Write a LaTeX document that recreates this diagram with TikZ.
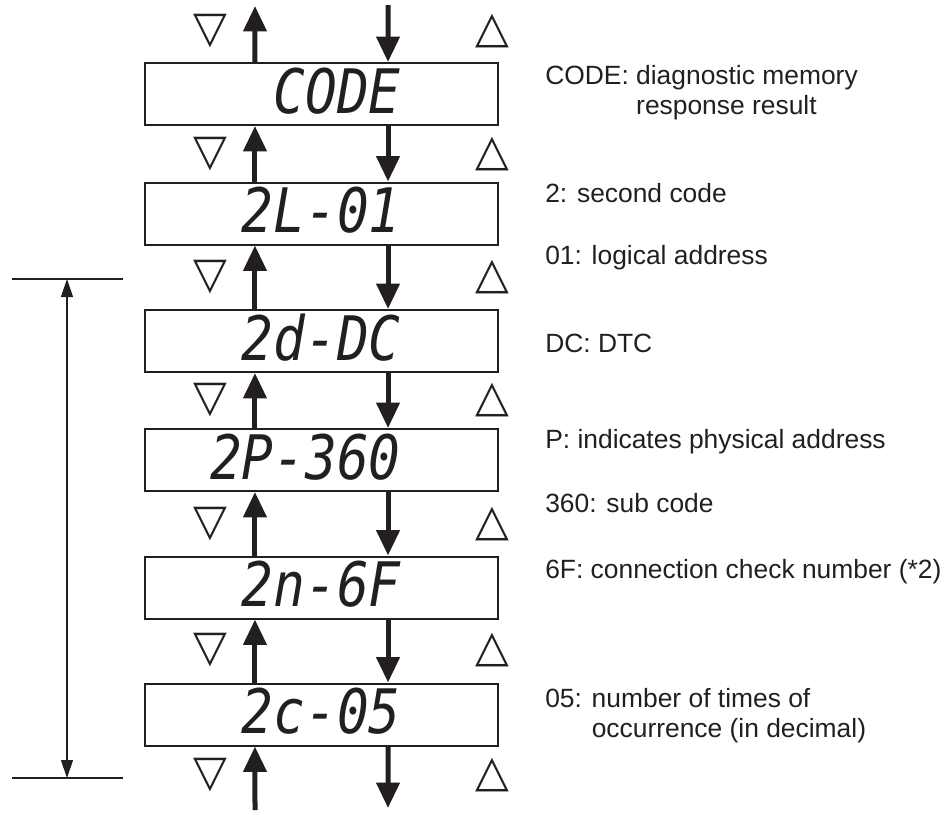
\documentclass[tikz,border=0pt]{standalone}
\usepackage{fontspec}
\setmainfont{Liberation Sans}
\newfontfamily\lcdfont{DejaVu Sans Mono}
\newfontfamily\symfont{DejaVu Sans}
\usetikzlibrary{arrows.meta, calc}
\definecolor{ink}{HTML}{231F20}

\begin{document}
\begin{tikzpicture}[
    x=0.75pt, y=-0.75pt,
    font=\fontsize{19.8}{22.5}\selectfont,
    lcd/.style={rectangle, draw=ink, line width=1.5pt, minimum width=264.75pt, minimum height=46.5pt, inner sep=0pt},
    reading/.style={anchor=east, inner sep=0pt, text=ink, font=\lcdfont\itshape\fontsize{46}{46}\selectfont},
    note/.style={anchor=base west, inner sep=0pt, align=left, text=ink},
    key/.style={inner sep=0pt, text=ink, font=\symfont\fontsize{33}{33}\selectfont},
    flow/.style={draw=ink, line width=3.75pt, -{Triangle[width=17pt, length=19pt]}},
    span/.style={draw=ink, line width=0.9pt, {Triangle[width=9pt, length=13.5pt]}-{Triangle[width=9pt, length=13.5pt]}},
    rule/.style={draw=ink, line width=1.1pt}
]
\useasboundingbox (0,0) rectangle (952,814);

% ---- Display screens ----
\node[lcd] (d1) at (321.5,94) {};
\node[lcd] (d2) at (321.5,213.5) {};
\node[lcd] (d3) at (321.5,341) {};
\node[lcd] (d4) at (321.5,460) {};
\node[lcd] (d5) at (321.5,587.5) {};
\node[lcd] (d6) at (321.5,714.5) {};

\node[reading] (r1) at (401,91) {\scalebox{0.86}[1]{CODE}};
\node[reading] (r2) at (401,210.5) {\scalebox{0.86}[1]{2L-01}};
\node[reading] (r3) at (401,338) {\scalebox{0.86}[1]{2d-DC}};
\node[reading] (r4) at (401,457) {\scalebox{0.86}[1]{2P-360}};
\node[reading] (r5) at (401,584.5) {\scalebox{0.86}[1]{2n-6F}};
\node[reading] (r6) at (401,711.5) {\scalebox{0.86}[1]{2c-05}};

% ---- Button keys ----
\node[key] (dn0) at (210,31) {▽};
\node[key] (up0) at (492,31) {△};
\node[key] (dn1) at (210,154) {▽};
\node[key] (up1) at (492,154) {△};
\node[key] (dn2) at (210,277) {▽};
\node[key] (up2) at (492,277) {△};
\node[key] (dn3) at (210,400) {▽};
\node[key] (up3) at (492,400) {△};
\node[key] (dn4) at (210,524) {▽};
\node[key] (up4) at (492,524) {△};
\node[key] (dn5) at (210,650) {▽};
\node[key] (up5) at (492,650) {△};
\node[key] (dn6) at (210,775) {▽};
\node[key] (up6) at (492,775) {△};

% ---- Notes ----
\node[note] (n1) at (545,114) {CODE: diagnostic memory\\\phantom{CODE: }response result};
\node[note] (n2) at (545,202) {2: second code};
\node[note] (n3) at (545,264) {01: logical address};
\node[note] (n4) at (545,352) {DC: DTC};
\node[note] (n5) at (545,448) {P: indicates physical address};
\node[note] (n6) at (545,512) {360: sub code};
\node[note] (n7) at (545,578) {6F: connection check number (*2)};
\node[note] (n8) at (545,737) {05: number of times of\\\phantom{05: }occurrence (in decimal)};

% ---- Free ends ----
\coordinate (topup) at (255,6);
\coordinate (topdown) at (388,5);
\coordinate (botup) at (255,810);
\coordinate (botdown) at (388,808);

% ---- Scroll arrows ----
\draw[flow] ([xshift=-49.9pt]d1.north) -- (topup);
\draw[flow] (topdown) -- ([xshift=49.9pt]d1.north);
\draw[flow] ([xshift=-49.9pt]d2.north) -- ([xshift=-49.9pt]d1.south);
\draw[flow] ([xshift=49.9pt]d1.south) -- ([xshift=49.9pt]d2.north);
\draw[flow] ([xshift=-49.9pt]d3.north) -- ([xshift=-49.9pt]d2.south);
\draw[flow] ([xshift=49.9pt]d2.south) -- ([xshift=49.9pt]d3.north);
\draw[flow] ([xshift=-49.9pt]d4.north) -- ([xshift=-49.9pt]d3.south);
\draw[flow] ([xshift=49.9pt]d3.south) -- ([xshift=49.9pt]d4.north);
\draw[flow] ([xshift=-49.9pt]d5.north) -- ([xshift=-49.9pt]d4.south);
\draw[flow] ([xshift=49.9pt]d4.south) -- ([xshift=49.9pt]d5.north);
\draw[flow] ([xshift=-49.9pt]d6.north) -- ([xshift=-49.9pt]d5.south);
\draw[flow] ([xshift=49.9pt]d5.south) -- ([xshift=49.9pt]d6.north);
\draw[flow] (botup) -- ([xshift=-49.9pt]d6.south);
\draw[flow] ([xshift=49.9pt]d6.south) -- (botdown);

% ---- Span bracket ----
\coordinate (spantop) at (67,279);
\coordinate (spanbot) at (67,778);
\draw[rule] (12,279) -- (123,279);
\draw[rule] (12,778) -- (123,778);
\draw[span] (spantop) -- (spanbot);

\end{tikzpicture}
\end{document}
